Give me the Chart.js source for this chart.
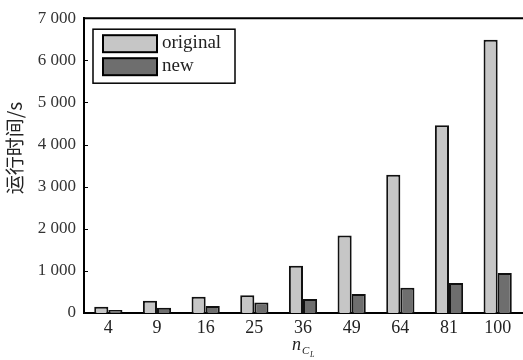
<!DOCTYPE html>
<html lang="zh">

<head>
    <meta charset="UTF-8">
    <script src="https://cdn.jsdelivr.net/npm/chart.js"></script>
    <title>运行时间</title>
    <style>
        body { margin: 0; background: #fff; }
        #wrap { width: 523px; height: 360px; }
    </style>
</head>

<body>
    <div id="wrap"><canvas id="chart" width="523" height="360"></canvas></div>
    <script>
        const categories = ['4', '9', '16', '25', '36', '49', '64', '81', '100']
        const originalTimes = [150, 290, 385, 420, 1120, 1840, 3280, 4460, 6490]
        const newTimes = [70, 125, 165, 250, 330, 450, 600, 710, 950]
        const seriesNames = ['original', 'new']
        const yTicks = [0, 1000, 2000, 3000, 4000, 5000, 6000, 7000]

        const serif = "'Liberation Serif', 'DejaVu Serif', serif"

        function fmt(v) {
            // thousands separated by a space, like "7 000"
            return v >= 1000 ? Math.floor(v / 1000) + ' ' + String(v % 1000).padStart(3, '0') : String(v)
        }

        const decor = {
            id: 'decor',
            afterDraw: (chart) => {
                const ctx = chart.ctx
                const a = chart.chartArea
                const y = chart.scales.y
                ctx.save()
                // top border
                ctx.strokeStyle = '#000'
                ctx.lineWidth = 2
                ctx.beginPath()
                ctx.moveTo(a.left - 1, a.top)
                ctx.lineTo(a.right + 1, a.top)
                ctx.stroke()
                // inner tick marks on y axis
                ctx.lineWidth = 1
                yTicks.forEach(v => {
                    const py = Math.round(y.getPixelForValue(v)) + 0.5
                    ctx.beginPath()
                    ctx.moveTo(a.left, py)
                    ctx.lineTo(a.left + 4, py)
                    ctx.stroke()
                })

                // legend with frame
                const lx = a.left + 9, ly = a.top + 11
                ctx.lineWidth = 1.5
                ctx.strokeRect(lx, ly, 142, 54)
                chart.data.datasets.forEach((ds, i) => {
                    const sy = ly + 6 + i * 23
                    ctx.fillStyle = ds.backgroundColor
                    ctx.fillRect(lx + 10, sy, 54, 17)
                    ctx.lineWidth = 2
                    ctx.strokeStyle = '#000'
                    ctx.strokeRect(lx + 10, sy, 54, 17)
                    ctx.fillStyle = '#222'
                    ctx.font = '19px ' + serif
                    ctx.textBaseline = 'middle'
                    ctx.textAlign = 'left'
                    ctx.fillText(ds.label, lx + 69, sy + 8)
                })

                // y title
                ctx.save()
                ctx.translate(15, 148)
                ctx.rotate(-Math.PI / 2)
                ctx.font = "19px 'Noto Sans CJK SC', sans-serif"
                ctx.fillStyle = '#222'
                ctx.textAlign = 'center'
                ctx.textBaseline = 'middle'
                ctx.fillText('运行时间/s', 0, 0)
                ctx.restore()

                // x title n_{C_L}
                ctx.fillStyle = '#222'
                ctx.textAlign = 'left'
                ctx.textBaseline = 'alphabetic'
                ctx.font = 'italic 18px ' + serif
                ctx.fillText('n', 292, 350)
                ctx.font = 'italic 11px ' + serif
                ctx.fillText('C', 302, 354)
                ctx.font = 'italic 8px ' + serif
                ctx.fillText('L', 310, 357)
                ctx.restore()
            }
        }

        new Chart(document.getElementById('chart'), {
            type: 'bar',
            data: {
                labels: categories,
                datasets: [
                    { label: seriesNames[0], data: originalTimes, backgroundColor: '#c6c6c6', borderColor: '#111', borderWidth: 2 },
                    { label: seriesNames[1], data: newTimes, backgroundColor: '#6e6e6e', borderColor: '#111', borderWidth: 2 }
                ]
            },
            options: {
                responsive: false,
                animation: false,
                categoryPercentage: 0.58,
                barPercentage: 1.0,
                layout: { padding: { left: 0, top: 16, right: 1, bottom: 0 } },
                plugins: { legend: { display: false }, tooltip: { enabled: false } },
                scales: {
                    x: {
                        grid: { display: false, drawTicks: false },
                        border: { display: true, color: '#000', width: 2 },
                        ticks: { color: '#222', font: { family: serif, size: 18 }, padding: 4, maxRotation: 0 },
                        afterFit: (s) => { s.height = 47 }
                    },
                    y: {
                        min: 0,
                        max: 7000,
                        afterBuildTicks: (s) => { s.ticks = yTicks.map(v => ({ value: v })) },
                        grid: { display: false, drawTicks: false },
                        border: { display: true, color: '#000', width: 2 },
                        ticks: { color: '#333', font: { family: serif, size: 17 }, padding: 8, callback: (v) => fmt(v) },
                        afterFit: (s) => { s.width = 84 }
                    }
                }
            },
            plugins: [decor]
        })
    </script>
</body>

</html>
